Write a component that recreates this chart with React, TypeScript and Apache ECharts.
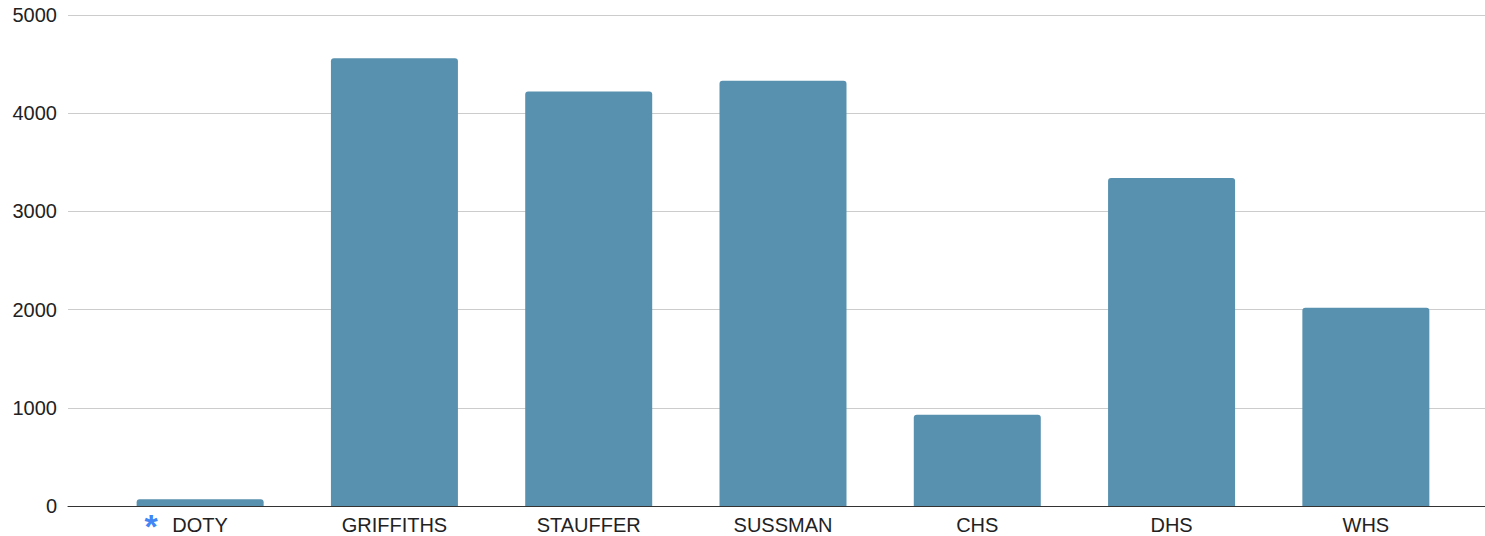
import React, { useEffect, useRef } from "react";
import * as echarts from "echarts";

const categories = ["DOTY", "GRIFFITHS", "STAUFFER", "SUSSMAN", "CHS", "DHS", "WHS"];
const values = [70, 4560, 4220, 4330, 930, 3340, 2020];
const yTicks = [0, 1000, 2000, 3000, 4000, 5000];

export default function App() {
  const ref = useRef<HTMLDivElement>(null);
  useEffect(() => {
    if (!ref.current) return;
    const chart = echarts.init(ref.current, undefined, { renderer: "svg" });
    const font = "Liberation Sans, Arial, sans-serif";
    chart.setOption({
      animation: false,
      grid: [
        { left: 68, right: 0, top: 15, bottom: 30, containLabel: false, outerBoundsMode: "none" },
        { left: 103, width: 1360, top: 15, bottom: 30, containLabel: false, outerBoundsMode: "none" },
      ],
      xAxis: [
        {
          type: "category",
          gridIndex: 0,
          data: categories,
          axisLine: { show: true, lineStyle: { color: "#333333", width: 1 } },
          axisTick: { show: false },
          axisLabel: { show: false },
        },
        {
          type: "category",
          gridIndex: 1,
          data: categories,
          axisLine: { show: false },
          axisTick: { show: false },
          axisLabel: {
            interval: 0,
            hideOverlap: false,
            color: "#222222",
            fontSize: 20,
            fontFamily: font,
            margin: 9,
            verticalAlign: "top",
            lineHeight: 20,
            formatter: (v: string) => (v === "DOTY" ? "{a|*}{b|" + v + "}{s|}" : v),
            rich: {
              a: { color: "#4285f4", fontSize: 34, fontWeight: "bold", fontFamily: font, width: 28, align: "left", lineHeight: 20, padding: [2, 0, 0, 0] },
              b: { color: "#222222", fontSize: 20, fontFamily: font, lineHeight: 20 },
              s: { width: 28, lineHeight: 20 },
            },
          },
        },
      ],
      yAxis: [
        {
          type: "value",
          gridIndex: 0,
          min: 0,
          max: 5000,
          interval: 1000,
          axisLine: { show: false },
          axisTick: { show: false },
          axisLabel: {
            color: "#222222",
            fontSize: 20,
            fontFamily: font,
            margin: 11,
            formatter: (v: number) => (yTicks.includes(v) ? String(v) : ""),
          },
          splitLine: { lineStyle: { color: "#cccccc", width: 1 } },
        },
        {
          type: "value",
          gridIndex: 1,
          min: 0,
          max: 5000,
          interval: 1000,
          show: false,
          splitLine: { show: false },
        },
      ],
      series: [
        {
          type: "bar",
          xAxisIndex: 1,
          yAxisIndex: 1,
          data: values,
          barWidth: 127,
          itemStyle: { color: "#5891af", borderRadius: [3, 3, 0, 0] },
        },
      ],
    });
    return () => chart.dispose();
  }, []);
  return <div ref={ref} style={{ width: 1485, height: 536, position: "absolute", left: 0, top: 0 }} />;
}
